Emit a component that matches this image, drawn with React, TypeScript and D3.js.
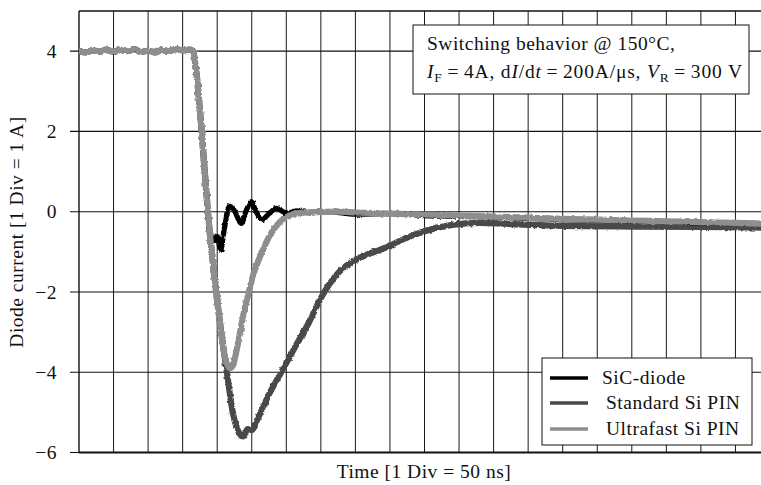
import React from "react";
import * as d3 from "d3";

// Time axis in divisions (1 div = 50 ns), current in A.
const plateau: [number, number][] = [
  [0, 4.0], [0.2, 3.97], [0.4, 4.02], [0.6, 3.99], [0.8, 4.04], [1.0, 3.98],
  [1.2, 4.03], [1.4, 4.0], [1.6, 4.05], [1.8, 3.98], [2.0, 4.01], [2.2, 3.97],
  [2.4, 4.03], [2.6, 4.0], [2.8, 4.05], [3.0, 4.02], [3.2, 4.04], [3.3, 4.0],
  [3.38, 3.6], [3.55, 2.0],
];

const sicDiode: [number, number][] = [
  ...plateau,
  [3.73, 0.0], [3.78, -0.5], [3.93, -0.72], [4.0, -0.62], [4.1, -0.96],
  [4.2, -0.45], [4.37, 0.16], [4.5, 0.02], [4.7, -0.29], [4.85, 0.05],
  [4.99, 0.25], [5.1, 0.05], [5.29, -0.2], [5.5, -0.05], [5.72, 0.08],
  [6.01, -0.04], [6.3, 0.02], [6.7, -0.03], [7.2, 0.0], [8.0, -0.06],
  [9.0, -0.05], [10.0, -0.1], [11.0, -0.12], [12.0, -0.13], [13.0, -0.17],
  [14.0, -0.2], [15.0, -0.22], [16.0, -0.24], [17.0, -0.25], [18.0, -0.28],
  [19.0, -0.29], [20.0, -0.3],
];

const standardPin: [number, number][] = [
  ...plateau,
  [3.73, 0.0], [3.97, -2.0], [4.28, -4.0], [4.45, -5.0], [4.6, -5.45],
  [4.75, -5.6], [4.88, -5.42], [5.0, -5.44], [5.15, -5.2], [5.5, -4.55],
  [5.82, -4.05], [6.11, -3.6], [6.3, -3.3], [6.6, -2.85], [6.97, -2.2],
  [7.25, -1.8], [7.55, -1.48], [8.13, -1.15], [8.71, -0.95], [9.0, -0.85],
  [9.4, -0.68], [9.96, -0.5], [10.8, -0.33], [11.6, -0.28], [12.3, -0.3],
  [13.05, -0.33], [14.5, -0.36], [16.0, -0.37], [18.0, -0.38], [20.0, -0.4],
];

const ultrafastPin: [number, number][] = [
  ...plateau,
  [3.73, 0.0], [3.97, -2.0], [4.12, -3.05], [4.22, -3.6], [4.3, -3.82],
  [4.37, -3.9], [4.45, -3.84], [4.55, -3.5], [4.75, -2.6], [4.93, -1.95],
  [5.05, -1.55], [5.24, -1.12], [5.53, -0.58], [5.82, -0.25], [6.11, -0.09],
  [6.4, -0.03], [6.8, -0.01], [7.5, 0.0], [8.0, -0.02], [9.0, -0.05],
  [10.0, -0.07], [11.0, -0.1], [12.0, -0.12], [13.0, -0.15], [14.0, -0.18],
  [15.0, -0.2], [16.0, -0.22], [17.0, -0.24], [18.0, -0.26], [19.0, -0.28],
  [20.0, -0.3],
];

const yTicks = [4, 2, 0, -2, -4, -6];
const yGridValues = [4, 2, 0, -2, -4];
const xDivisions = d3.range(1, 20);

const seriesNames = ["SiC-diode", "Standard Si PIN", "Ultrafast Si PIN"];
const seriesColors = ["#000000", "#4a4a4a", "#8e8e8e"];

const WIDTH = 761;
const HEIGHT = 485;
const LEFT = 79;
const TOP = 11;
const BOTTOM = 452.5;
const DIV_PX = 34.55;

const FONT = "'Liberation Serif', 'DejaVu Serif', serif";
const FS = 19.5;
const LS = 0.5;

export default function App() {
  const x = d3.scaleLinear().domain([0, 20]).range([LEFT, LEFT + 20 * DIV_PX]);
  const y = d3.scaleLinear().domain([-6, 5]).range([BOTTOM, TOP]);
  const line = d3
    .line<[number, number]>()
    .x((d) => x(d[0]))
    .y((d) => y(d[1]))
    .curve(d3.curveMonotoneX);

  const drawOrder: { data: [number, number][]; color: string; width: number }[] = [
    { data: standardPin, color: seriesColors[1], width: 6.2 },
    { data: sicDiode, color: seriesColors[0], width: 5.2 },
    { data: ultrafastPin, color: seriesColors[2], width: 6.2 },
  ];

  return (
    <svg
      width={WIDTH}
      height={HEIGHT}
      style={{ position: "absolute", left: 0, top: 0, background: "#fff" }}
      fontFamily={FONT}
      letterSpacing={LS}
    >
      <defs>
        <filter id="scope-noise" x="-5%" y="-5%" width="110%" height="110%">
          <feTurbulence type="fractalNoise" baseFrequency="0.3" numOctaves={2} seed={3} result="n" />
          <feDisplacementMap in="SourceGraphic" in2="n" scale={3} xChannelSelector="R" yChannelSelector="G" />
        </filter>
        <clipPath id="plot-clip">
          <rect x={LEFT} y={TOP} width={WIDTH - LEFT} height={BOTTOM - TOP} />
        </clipPath>
      </defs>

      {/* grid */}
      {xDivisions.map((d) => (
        <line key={"vx" + d} x1={x(d)} x2={x(d)} y1={TOP} y2={BOTTOM} stroke="#1a1a1a" strokeWidth={1} />
      ))}
      {yGridValues.map((v) => (
        <line key={"hy" + v} x1={LEFT - 9} x2={WIDTH} y1={y(v)} y2={y(v)} stroke="#111" strokeWidth={1.1} />
      ))}
      <line x1={LEFT - 9} x2={LEFT} y1={y(-6)} y2={y(-6)} stroke="#111" strokeWidth={1.1} />

      {/* frame */}
      <line x1={LEFT} x2={WIDTH} y1={TOP} y2={TOP} stroke="#111" strokeWidth={1.4} />
      <line x1={LEFT} x2={LEFT} y1={TOP} y2={BOTTOM} stroke="#111" strokeWidth={1.4} />
      <line x1={LEFT} x2={WIDTH} y1={BOTTOM} y2={BOTTOM} stroke="#111" strokeWidth={2} />

      {/* y tick labels */}
      {yTicks.map((v) => (
        <text key={"yl" + v} x={57} y={y(v)} dy="0.34em" textAnchor="end" fontSize={FS} fill="#111">
          {v < 0 ? "\u2212" + Math.abs(v) : String(v)}
        </text>
      ))}

      {/* traces */}
      <g clipPath="url(#plot-clip)">
        <g filter="url(#scope-noise)">
          {drawOrder.map((s, i) => (
            <path
              key={"s" + i}
              d={line(s.data) ?? ""}
              fill="none"
              stroke={s.color}
              strokeWidth={s.width}
              strokeLinejoin="round"
              strokeLinecap="round"
            />
          ))}
        </g>
      </g>

      {/* axis titles */}
      <text x={424} y={478} textAnchor="middle" fontSize={FS} fill="#111">
        Time [1 Div = 50 ns]
      </text>
      <text
        transform={`translate(23, 232) rotate(-90)`}
        textAnchor="middle"
        fontSize={FS}
        fill="#111"
      >
        Diode current [1 Div = 1 A]
      </text>

      {/* condition box */}
      <rect x={413} y={25} width={336} height={69} fill="#fff" stroke="#111" strokeWidth={1} />
      <text x={427} y={50} fontSize={FS} fill="#111">
        Switching behavior @ 150°C,
      </text>
      <text x={427} y={78} fontSize={FS} fill="#111" letterSpacing={0} textLength={315} lengthAdjust="spacing">
        <tspan fontStyle="italic">I</tspan>
        <tspan fontSize={13.5} dy={4}>F</tspan>
        <tspan dy={-4}>{"\u2009=\u20094A, d"}</tspan>
        <tspan fontStyle="italic">I</tspan>
        <tspan>/d</tspan>
        <tspan fontStyle="italic">t</tspan>
        <tspan>{"\u2009=\u2009200A/μs, "}</tspan>
        <tspan fontStyle="italic">V</tspan>
        <tspan fontSize={13.5} dy={4}>R</tspan>
        <tspan dy={-4}>{"\u2009=\u2009300 V"}</tspan>
      </text>

      {/* legend */}
      <rect x={542} y={358} width={210} height={87} fill="#fff" stroke="#111" strokeWidth={1} />
      {seriesNames.map((name, i) => {
        const ly = [378, 403, 429][i];
        return (
          <g key={name}>
            <line x1={550} x2={588} y1={ly} y2={ly} stroke={seriesColors[i]} strokeWidth={3.5} />
            <text x={[602, 606, 606][i]} y={ly} dy="0.33em" fontSize={FS} fill="#111">
              {name}
            </text>
          </g>
        );
      })}
    </svg>
  );
}
